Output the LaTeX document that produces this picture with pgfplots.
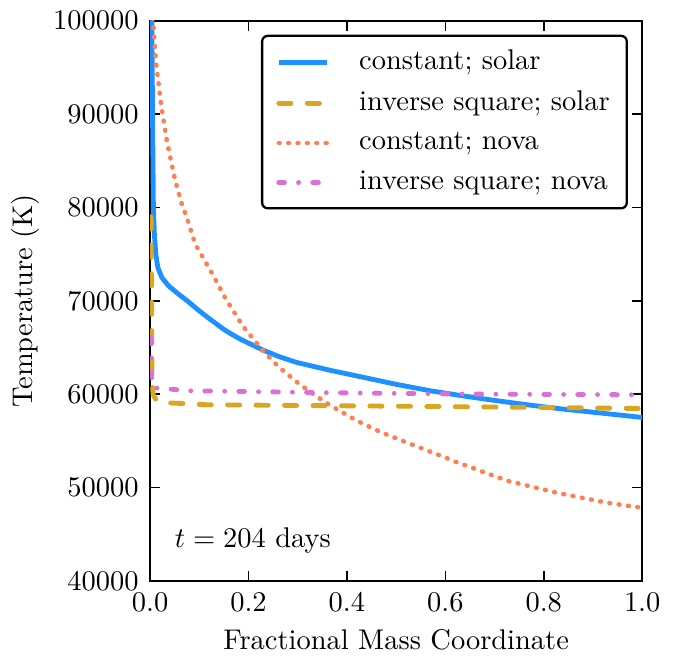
\documentclass[border={0.5pt 1pt 1.8pt 0.5pt}]{standalone}
\usepackage{pgfplots}
\pgfplotsset{compat=1.18}
\definecolor{cblue}{RGB}{30,144,255}
\definecolor{cgold}{RGB}{218,165,32}
\definecolor{corange}{RGB}{255,127,80}
\definecolor{corchid}{RGB}{218,112,214}
\begin{document}
\begin{tikzpicture}
\begin{axis}[
  scale only axis,
  width=172.9pt, height=196.8pt,
  xmin=0, xmax=1, ymin=40000, ymax=100000,
  xtick={0,0.2,0.4,0.6,0.8,1.0},
  xticklabels={0.0,0.2,0.4,0.6,0.8,1.0},
  ytick={40000,50000,60000,70000,80000,90000,100000},
  yticklabels={40000,50000,60000,70000,80000,90000,100000},
  scaled y ticks=false, scaled x ticks=false,
  yticklabel style={xshift=-0.5pt},
  xticklabel style={yshift=-0.5pt},
  xlabel style={yshift=0.8pt},
  ylabel style={yshift=-2pt},
  tick align=inside, major tick length=3.5pt,
  xtick pos=both, ytick pos=both,
  axis line style={line width=0.8pt},
  every tick/.style={black, line width=0.6pt},
  xlabel={Fractional Mass Coordinate},
  ylabel={Temperature (K)},
  clip=true,
  legend cell align=left,
  legend style={at={(0.971,0.975)}, anchor=north east, draw=black, line width=0.8pt,
    rounded corners=2pt, inner xsep=5pt, inner ysep=4pt,
    row sep=4.0pt,
    nodes={inner sep=1pt},
    /tikz/every odd column/.append style={column sep=9.4pt}},
  legend image code/.code={\draw[#1] (0pt,0pt) -- (17pt,0pt);},
]
\addplot[cblue, line width=1.7pt] coordinates {
(0.0035,100500) (0.005,90000) (0.006,84000) (0.0067,80000) (0.0087,77140) (0.0116,75000)
(0.0157,73570) (0.0238,72500) (0.0372,71610) (0.0575,70720) (0.0778,69900) (0.098,69000)
(0.115,68300) (0.148,67000) (0.163,66500) (0.183,65900)
(0.23,64700) (0.263,64000) (0.298,63390) (0.366,62550) (0.434,61790) (0.5,61050) (0.569,60360) (0.637,59800) (0.705,59290)
(0.772,58820) (0.84,58390) (0.92,57950) (1.0,57500)};
\addlegendentry{constant; solar}
\addplot[cgold, line width=1.7pt, dash pattern=on 4.3pt off 5.7pt, line cap=round] coordinates {
(0.002,79000) (0.003,70000) (0.004,62000) (0.006,60000) (0.013,59290) (0.035,59070)
(0.116,58860) (0.386,58750) (0.66,58640) (1.0,58460)};
\addlegendentry{inverse square; solar}
\addplot[corange, line width=1.6pt, dash pattern=on 0.3pt off 3pt, line cap=round] coordinates {
(0.0055,100300) (0.012,95500) (0.0224,91000) (0.034,87140) (0.051,82860) (0.064,80450)
(0.0745,78930) (0.0915,76070) (0.125,73030) (0.152,70360)
(0.189,67250) (0.23,64600) (0.263,62850) (0.298,61300) (0.33,60050) (0.366,58800)
(0.42,57150) (0.47,55900) (0.52,54850)
(0.624,52700) (0.726,50710) (0.827,49430) (0.929,48360) (1.0,47820)};
\addlegendentry{constant; nova}
\addplot[corchid, line width=1.7pt, dash pattern=on 2pt off 4.95pt on 0.01pt off 4.95pt, line cap=round] coordinates {
(0.002,66000) (0.003,62000) (0.006,60680) (0.081,60360) (0.386,60140) (0.66,60000) (1.0,59930)};
\addlegendentry{inverse square; nova}
\node[anchor=west] at (axis cs:0.03,44300) {$t = 204$ days};
\end{axis}
\end{tikzpicture}
\end{document}
